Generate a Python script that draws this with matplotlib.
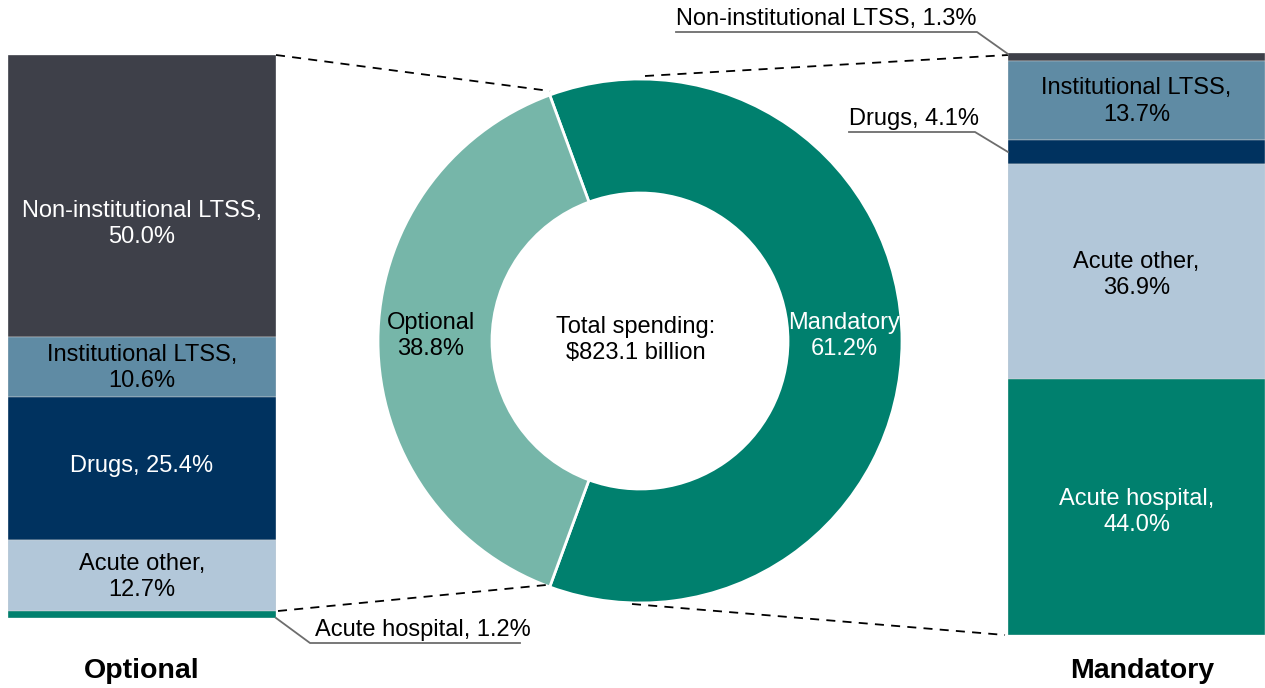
import matplotlib.pyplot as plt

plt.rcParams['font.family'] = ['Liberation Sans', 'DejaVu Sans']

W, H = 1265, 688

# donut split
groups = ["Mandatory", "Optional"]
group_shares = [61.2, 38.8]
total_label = "Total spending:\n$823.1 billion"

# stacked bars, listed from top to bottom
categories = ["Non-institutional LTSS", "Institutional LTSS", "Drugs",
              "Acute other", "Acute hospital"]
optional_shares = [50.0, 10.6, 25.4, 12.7, 1.2]
mandatory_shares = [1.3, 13.7, 4.1, 36.9, 44.0]

colors = {
    "Non-institutional LTSS": "#3e4049",
    "Institutional LTSS": "#5f8ba4",
    "Drugs": "#00325f",
    "Acute other": "#b2c7d9",
    "Acute hospital": "#00806e",
}
text_colors = {
    "Non-institutional LTSS": "white",
    "Institutional LTSS": "black",
    "Drugs": "white",
    "Acute other": "black",
    "Acute hospital": "white",
}
donut_colors = ["#00806e", "#76b6a9"]

FS = 17
LS = 1.25

fig = plt.figure(figsize=(W / 100, H / 100), dpi=100)


def px_axes(x0, y0, x1, y1):
    # axes placed by pixel box (y measured from the top)
    return fig.add_axes([x0 / W, 1 - y1 / H, (x1 - x0) / W, (y1 - y0) / H])


def stacked(ax, shares, inside, one_line=()):
    total = sum(shares)
    top = total
    for cat, v in zip(categories, shares):
        ax.bar(0, v, bottom=top - v, width=1, color=colors[cat],
               edgecolor="#d8d8d8", linewidth=0.3)
        if cat in inside:
            dy = inside[cat]
            sep = " " if cat in one_line else "\n"
            ax.text(0, top - v / 2 + dy, f"{cat},{sep}{v:.1f}%", ha="center",
                    va="center", fontsize=FS, color=text_colors[cat],
                    linespacing=LS)
        top -= v
    ax.set_xlim(-0.5, 0.5)
    ax.set_ylim(0, total)
    ax.axis("off")


axl = px_axes(8, 55, 276, 618)
stacked(axl, optional_shares,
        {"Non-institutional LTSS": -5, "Institutional LTSS": -0.3,
         "Drugs": 0.4, "Acute other": -0.3},
        one_line=("Drugs",))

axr = px_axes(1008, 53, 1265, 635)
stacked(axr, mandatory_shares,
        {"Institutional LTSS": -0.2, "Acute other": -0.6,
         "Acute hospital": -0.9})

# overlay in pixel coordinates (y up)
ax = fig.add_axes([0, 0, 1, 1], facecolor="none")
cx, cy, r_out, ring = 640, H - 341, 262, 114
start = 180 - 360 * group_shares[1] / 100 / 2
ax.pie(group_shares, colors=donut_colors, startangle=start,
       counterclock=False, center=(cx, cy), radius=r_out,
       wedgeprops=dict(width=ring, edgecolor="white", linewidth=2))
ax.set_xlim(0, W)
ax.set_ylim(0, H)
ax.set_aspect("auto")
ax.axis("off")

ax.text(636, H - 340, total_label, ha="center", va="center",
        fontsize=FS, linespacing=LS)
ax.text(431, H - 336, f"{groups[1]}\n{group_shares[1]:.1f}%", ha="center",
        va="center", fontsize=FS, linespacing=LS)
ax.text(844, H - 336, f"{groups[0]}\n{group_shares[0]:.1f}%", ha="center",
        va="center", fontsize=FS, color="white", linespacing=LS)

# dashed connectors
dash = dict(color="black", linestyle=(0, (5, 4)), linewidth=1.3)
ax.plot([276, 550], [H - 55, H - 91], **dash)
ax.plot([278, 546], [H - 611, H - 585], **dash)
ax.plot([645, 1008], [H - 76, H - 55], **dash)
ax.plot([632, 1005], [H - 604, H - 635], **dash)

# leader lines for thin segments
lead = dict(color="#6d6d6d", linewidth=1.3)
ax.plot([1008, 977, 676], [H - 54, H - 32, H - 32], **lead)
ax.text(676, H - 30, "Non-institutional LTSS, 1.3%", ha="left",
        va="bottom", fontsize=FS)
ax.plot([1008, 975, 849], [H - 152, H - 132, H - 132], **lead)
ax.text(849, H - 130, "Drugs, 4.1%", ha="left", va="bottom",
        fontsize=FS)
ax.plot([276, 310, 520], [H - 618, H - 643, H - 643], **lead)
ax.text(315, H - 641, "Acute hospital, 1.2%", ha="left", va="bottom",
        fontsize=FS)

# bar titles
ax.text(142, H - 671, "Optional", ha="center", va="center",
        fontsize=20.5, fontweight="bold")
ax.text(1142, H - 671, "Mandatory", ha="center", va="center",
        fontsize=20.5, fontweight="bold")

fig.savefig("out.png", dpi=100)
